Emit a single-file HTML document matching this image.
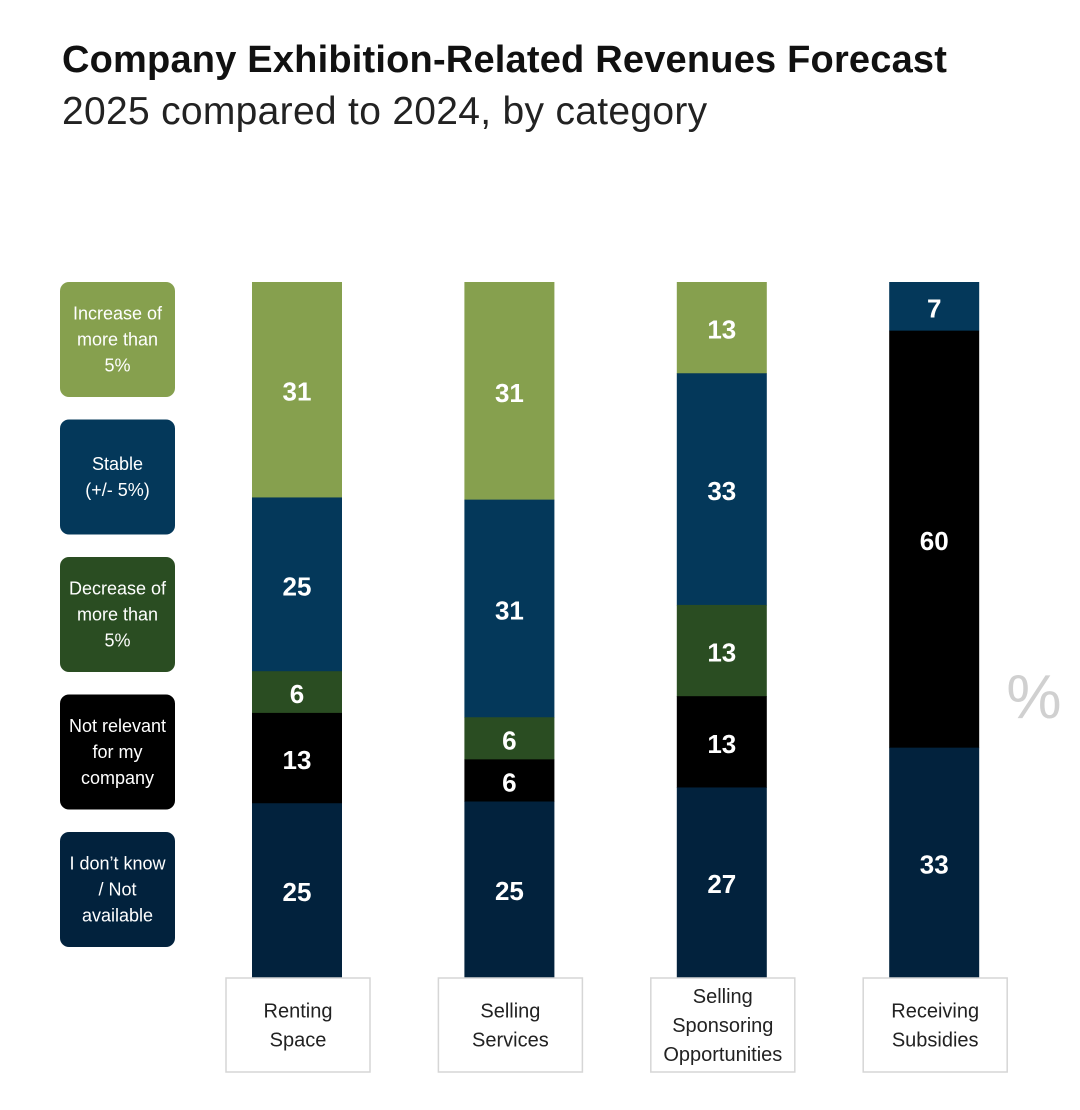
<!DOCTYPE html>
<html><head><meta charset="utf-8">
<style>
body{margin:0;background:#fff;width:1080px;height:1110px;overflow:hidden;font-family:"Liberation Sans",sans-serif;}
#title{position:absolute;left:62px;top:39px;font-size:38px;font-weight:bold;color:#111;letter-spacing:0.2px;margin:0;white-space:nowrap}
#subtitle{position:absolute;left:62px;top:90px;font-size:39px;color:#222;letter-spacing:0.3px;margin:0;white-space:nowrap}
svg{position:absolute;left:0;top:0}
</style></head><body>
<h1 id="title">Company Exhibition-Related Revenues Forecast</h1>
<div id="subtitle">2025 compared to 2024, by category</div>
<svg id="chart" width="1080" height="1110"></svg>
<script>
const categories = [["Renting","Space"],["Selling","Services"],["Selling","Sponsoring","Opportunities"],["Receiving","Subsidies"]];
const seriesNames = [["Increase of","more than","5%"],["Stable","(+/- 5%)"],["Decrease of","more than","5%"],["Not relevant","for my","company"],["I don’t know","/ Not","available"]];
const increase = [31,31,13,0];
const stable = [25,31,33,7];
const decrease = [6,6,13,0];
const notRelevant = [13,6,13,60];
const dontKnow = [25,25,27,33];
const colors = ["#86a04e","#04385a","#2a4d22","#000000","#02223d"];
const series = [increase,stable,decrease,notRelevant,dontKnow];
const NS="http://www.w3.org/2000/svg";
const svg=document.getElementById('chart');
const top0=282,bottom0=977,barW=90;
const xCenter=i=>297+i*212.4;
function mk(t,a){const e=document.createElementNS(NS,t);for(const k in a)e.setAttribute(k,a[k]);svg.appendChild(e);return e;}
seriesNames.forEach((lines,j)=>{
  const y=282+j*137.5;
  const r=mk('rect',{x:60,y:y,width:115,height:115,rx:9,fill:colors[j]});
  
  
  const t=mk('text',{x:117.5,'text-anchor':'middle','font-size':18,fill:'#fff','font-family':'Liberation Sans, sans-serif'});
  
  
  const y0=y+57.5-(lines.length-1)*13+6;
  lines.forEach((l,k)=>{const s=document.createElementNS(NS,'tspan');s.setAttribute('x',117.5);s.setAttribute('y',y0+k*26);s.textContent=l;t.appendChild(s);});
});
categories.forEach((cat,i)=>{
  const total=series.reduce((s,a)=>s+a[i],0);
  const scale=(bottom0-top0)/total;
  let y=top0;
  series.forEach((arr,j)=>{
    const v=arr[i]; if(!v) return;
    const h=v*scale;
    const r=mk('rect',{x:xCenter(i)-barW/2,y:y,width:barW,height:h+0.5,fill:colors[j]});
    
    
    const t=mk('text',{x:xCenter(i),y:y+h/2+11,'text-anchor':'middle','font-size':26,'font-weight':'bold',fill:'#fff'});
    t.textContent=v;
    
    
    y+=h;
  });
  const b=mk('rect',{x:xCenter(i)-71,y:978,width:144,height:94,fill:'#fff',stroke:'#d6d6d6','stroke-width':1.5});
  
  
  const t=mk('text',{'text-anchor':'middle','font-size':20,fill:'#222'});
  
  
  const y0=1025-(cat.length-1)*14.5+7;
  cat.forEach((l,k)=>{const s=document.createElementNS(NS,'tspan');s.setAttribute('x',xCenter(i)+1);s.setAttribute('y',y0+k*29);s.textContent=l;t.appendChild(s);});
});
const p=mk('text',{x:1034,y:718,'text-anchor':'middle','font-size':62,fill:'#d0d0d0'});
p.textContent='%';


</script>
</body></html>
